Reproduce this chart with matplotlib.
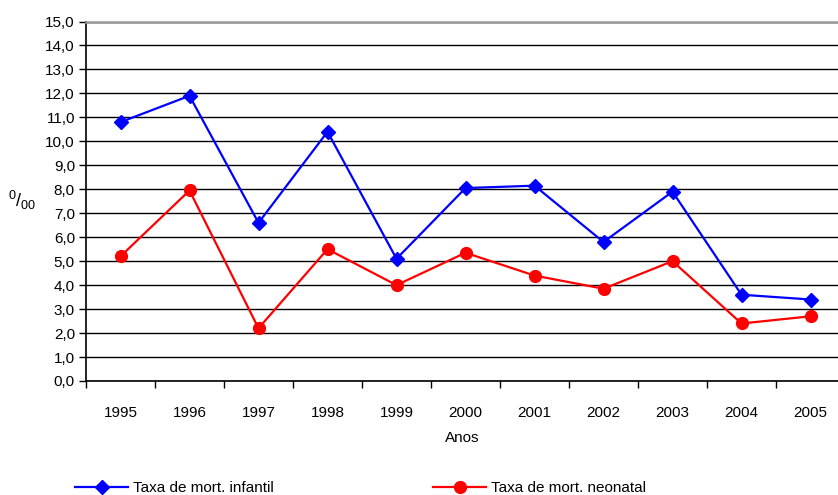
import numpy as np
import matplotlib
matplotlib.use('agg')
import matplotlib.pyplot as plt
from matplotlib.lines import Line2D

plt.rcParams['font.family'] = ['Liberation Sans', 'DejaVu Sans']
plt.rcParams['mathtext.fontset'] = 'custom'
plt.rcParams['mathtext.rm'] = 'Liberation Sans'
plt.rcParams['mathtext.it'] = 'Liberation Sans'

anos = ['1995', '1996', '1997', '1998', '1999', '2000',
        '2001', '2002', '2003', '2004', '2005']
infantil = [10.8, 11.9, 6.6, 10.4, 5.1, 8.05, 8.15, 5.8, 7.9, 3.6, 3.4]
neonatal = [5.2, 7.95, 2.2, 5.5, 4.0, 5.35, 4.4, 3.85, 5.0, 2.4, 2.7]
yticks = np.arange(0, 15.1, 1.0)

W, H = 838, 495
fig = plt.figure(figsize=(W / 100, H / 100), dpi=100)
ax = fig.add_axes([86 / W, 114 / H, 759 / W, 359.5 / H])

x = np.arange(len(anos))
ax.plot(x, infantil, color='#0000ff', lw=1.6, marker='D', ms=7,
        label='Taxa de mort. infantil', clip_on=False)
ax.plot(x, neonatal, color='#ff0000', lw=1.6, marker='o', ms=8.5,
        label='Taxa de mort. neonatal', clip_on=False)

ax.set_xlim(-0.5, len(anos) - 0.5)
ax.set_ylim(0, 15)
ax.set_yticks(yticks)
ax.set_yticklabels([('%.1f' % v).replace('.', ',') for v in yticks])
ax.tick_params(axis='y', direction='out', length=5, width=1, labelsize=11, pad=3)

# ticks between categories, labels centred on them
ax.set_xticks(np.arange(-0.5, len(anos), 1.0))
ax.set_xticklabels([])
ax.set_xticks(x, minor=True)
ax.set_xticklabels(anos, minor=True)
ax.tick_params(axis='x', which='major', direction='out', length=5, width=1)
ax.tick_params(axis='x', which='minor', length=0, labelsize=11, pad=18)

ax.yaxis.grid(True, color='black', lw=1)
ax.set_axisbelow(True)
for s in ['left', 'bottom']:
    ax.spines[s].set_color('black')
    ax.spines[s].set_linewidth(1.2)
ax.spines['right'].set_visible(False)
ax.spines['top'].set_color('#999999')
ax.spines['top'].set_linewidth(1.8)

fig.text(462 / W, 1 - 438 / H, 'Anos', ha='center', va='center', fontsize=11)
fig.text(22 / W, 1 - 200 / H, r'$^{0}/_{00}$', ha='center', va='center', fontsize=13)

h1 = Line2D([], [], color='#0000ff', lw=1.6, marker='D', ms=7)
h2 = Line2D([], [], color='#ff0000', lw=1.6, marker='o', ms=8.5)
for h, lab, xpos in [(h1, 'Taxa de mort. infantil', 75), (h2, 'Taxa de mort. neonatal', 433)]:
    fig.legend([h], [lab], loc='center left', bbox_to_anchor=(xpos / W, 7 / H),
               frameon=False, borderpad=0, borderaxespad=0, handlelength=3.5,
               handletextpad=0.3, fontsize=11)

fig.savefig('out.png', dpi=100)
